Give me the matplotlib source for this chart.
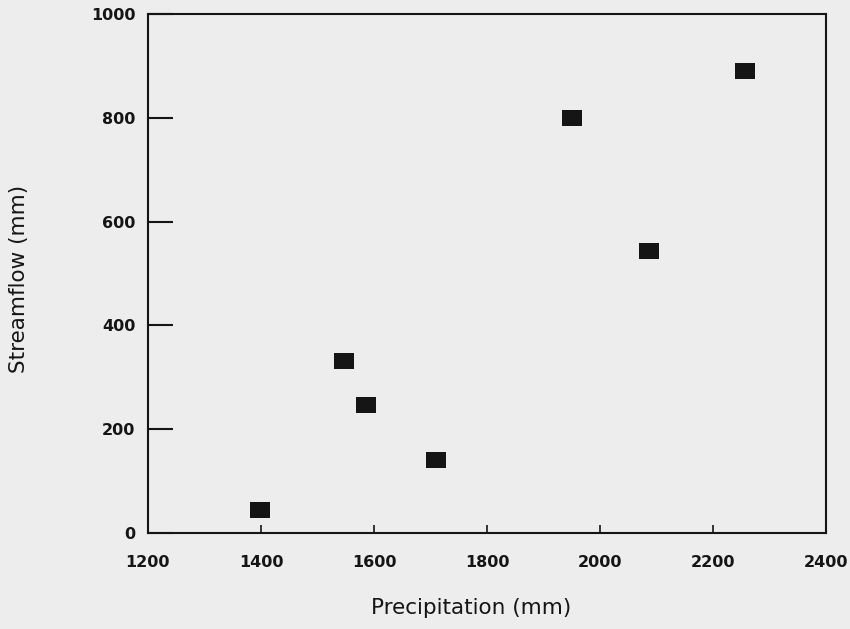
import matplotlib
matplotlib.use("Agg")
import matplotlib.pyplot as plt
from matplotlib.path import Path

# Annual precipitation vs. streamflow
precipitation = [1398, 1547, 1586, 1710, 1950, 2087, 2257]
streamflow = [45, 331, 247, 141, 800, 543, 890]

x_ticks = [1200, 1400, 1600, 1800, 2000, 2200, 2400]
y_ticks = [0, 200, 400, 600, 800, 1000]

paper = "#ededed"
ink = "#151515"

fig = plt.figure(figsize=(8.5, 6.29), dpi=100, facecolor=paper)
ax = fig.add_axes([0.174, 0.1526, 0.798, 0.8251], facecolor=paper)

# Slightly wide filled rectangle marker
rect = Path([(-1, -0.78), (1, -0.78), (1, 0.78), (-1, 0.78), (-1, -0.78)],
            [Path.MOVETO, Path.LINETO, Path.LINETO, Path.LINETO, Path.CLOSEPOLY])
ax.plot(precipitation, streamflow, linestyle="none", marker=rect,
        markersize=14.5, color=ink, markeredgewidth=0)

ax.set_xlim(1200, 2400)
ax.set_ylim(0, 1000)
ax.set_xticks(x_ticks)
ax.set_yticks(y_ticks)
ax.set_xticklabels([str(v) for v in x_ticks])
ax.set_yticklabels([str(v) for v in y_ticks])

for s in ax.spines.values():
    s.set_linewidth(1.5)
    s.set_color(ink)

ax.tick_params(axis="x", direction="in", length=6, width=1.2, color=ink,
               pad=16, labelsize=11.5, labelcolor=ink)
ax.tick_params(axis="y", direction="in", length=18, width=1.5, color=ink,
               pad=9, labelsize=11.5, labelcolor=ink)
for lbl in ax.get_xticklabels() + ax.get_yticklabels():
    lbl.set_fontweight("semibold")

ax.set_xlabel("Precipitation (mm)", fontsize=15.5, color=ink)
ax.set_ylabel("Streamflow (mm)", fontsize=15.5, color=ink)
ax.xaxis.set_label_coords(0.476, -0.125)
ax.yaxis.set_label_coords(-0.175, 0.49)

fig.savefig("out.png", dpi=100, facecolor=paper)
